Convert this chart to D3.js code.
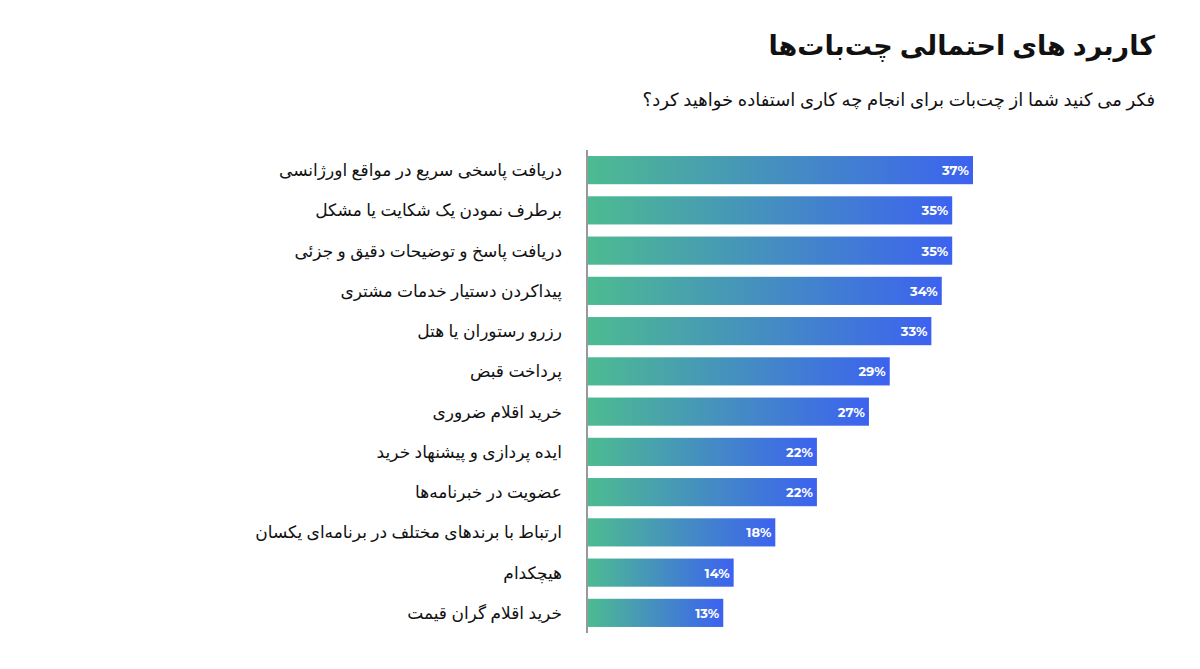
<!DOCTYPE html>
<html><head><meta charset="utf-8">
<script src="https://cdn.jsdelivr.net/npm/d3@7"></script>
<style>body{margin:0;background:#fff;font-family:"Noto Sans","DejaVu Sans",sans-serif}</style>
</head><body>
<script>
const categories = [
  'دریافت پاسخی سریع در مواقع اورژانسی',
  'برطرف نمودن یک شکایت یا مشکل',
  'دریافت پاسخ و توضیحات دقیق و جزئی',
  'پیداکردن دستیار خدمات مشتری',
  'رزرو رستوران یا هتل',
  'پرداخت قبض',
  'خرید اقلام ضروری',
  'ایده پردازی و پیشنهاد خرید',
  'عضویت در خبرنامه‌ها',
  'ارتباط با برندهای مختلف در برنامه‌ای یکسان',
  'هیچکدام',
  'خرید اقلام گران قیمت'
];
const values = [37, 35, 35, 34, 33, 29, 27, 22, 22, 18, 14, 13];

const W = 1200, H = 669;
const svg = d3.select('body').append('svg').attr('width', W).attr('height', H);

const grad = svg.append('defs').append('linearGradient').attr('id', 'g')
  .attr('x1', '0').attr('x2', '1').attr('y1', '0').attr('y2', '0');
grad.append('stop').attr('offset', '0%').attr('stop-color', '#4dbb91');
grad.append('stop').attr('offset', '100%').attr('stop-color', '#3c62f0');

const x0 = 588;
const x = d3.scaleLinear().domain([0, 37]).range([x0, 973]);
const y = d3.scaleBand().domain(categories).range([150, 633]).paddingInner(0.3).paddingOuter(0.15);

svg.append('text').attr('x', 1155).attr('y', 55).attr('text-anchor', 'end')
  .attr('font-size', 27).attr('font-weight', 'bold').attr('fill', '#111')
  .text('کاربرد های احتمالی چت‌بات‌ها');
svg.append('text').attr('x', 1155).attr('y', 106).attr('text-anchor', 'end')
  .attr('font-size', 18).attr('fill', '#111')
  .text('فکر می کنید شما از چت‌بات برای انجام چه کاری استفاده خواهید کرد؟');

svg.selectAll('rect.bar').data(values).enter().append('rect')
  .attr('class', 'bar')
  .attr('x', x0)
  .attr('y', (d, i) => y(categories[i]))
  .attr('width', d => x(d) - x0)
  .attr('height', y.bandwidth())
  .attr('fill', 'url(#g)');

svg.selectAll('text.val').data(values).enter().append('text')
  .attr('x', d => x(d) - 4)
  .attr('y', (d, i) => y(categories[i]) + y.bandwidth() / 2 + 5)
  .attr('text-anchor', 'end').attr('font-size', 13).attr('font-weight', 'bold')
  .attr('fill', '#fff').attr('font-family', 'Montserrat, "Open Sans", sans-serif')
  .text(d => d + '%');

svg.selectAll('text.cat').data(categories).enter().append('text')
  .attr('x', 562)
  .attr('y', d => y(d) + y.bandwidth() / 2 + 6)
  .attr('text-anchor', 'end').attr('font-size', 17).attr('fill', '#111')
  .text(d => d);

svg.append('line').attr('x1', x0 - 1).attr('x2', x0 - 1).attr('y1', 150).attr('y2', 633)
  .attr('stroke', '#777').attr('stroke-width', 1.5);
</script>
</body></html>
